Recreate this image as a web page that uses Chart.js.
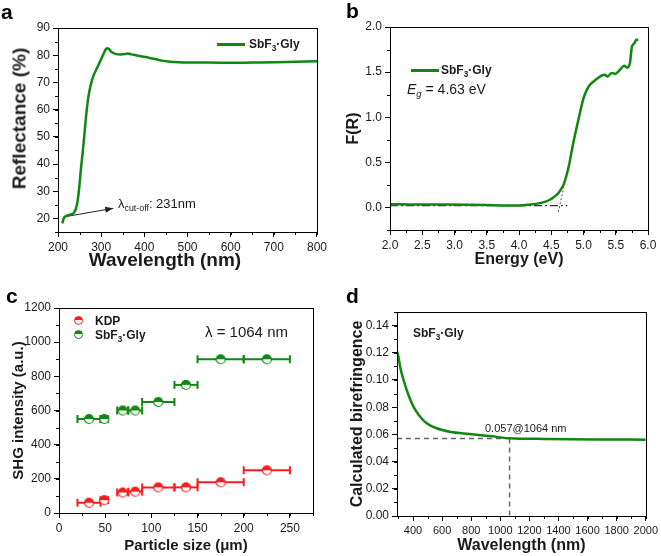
<!DOCTYPE html>
<html>
<head>
<meta charset="utf-8">
<script src="https://cdn.jsdelivr.net/npm/chart.js@4.4.1/dist/chart.umd.min.js"></script>
<style>
  html, body { margin: 0; padding: 0; background: #fff; }
  #wrap { position: relative; width: 661px; height: 556px; font-family: 'Liberation Sans', Arial, sans-serif; color: #1a1a1a; }
  #wrap canvas { position: absolute; }
  .t { position: absolute; white-space: nowrap; line-height: 1; }
  .b { font-weight: bold; }
  .sub { font-size: 0.68em; position: relative; top: 0.32em; }
  .panel { font-size: 21px; font-weight: bold; color: #000; }
  .axt { position: absolute; width: 200px; text-align: center; font-weight: bold; line-height: 1; white-space: nowrap; }
  .lgline { position: absolute; height: 3px; background: #118611; }
  .dot { position: absolute; width: 7px; height: 7px; border-radius: 50%; }
</style>
</head>
<body>
<div id="wrap">
  <canvas id="chartA" width="330" height="278" style="left:0;top:0"></canvas>
  <canvas id="chartB" width="331" height="278" style="left:330px;top:0"></canvas>
  <canvas id="chartC" width="330" height="278" style="left:0;top:278px"></canvas>
  <canvas id="chartD" width="331" height="278" style="left:330px;top:278px"></canvas>

  <div class="t panel" style="left:1px;top:1px">a</div>
  <div class="t panel" style="left:346px;top:0px">b</div>
  <div class="t panel" style="left:6px;top:285px">c</div>
  <div class="t panel" style="left:346px;top:285px">d</div>

  <!-- a -->
  <div class="axt" style="left:65px;top:250px;font-size:19px">Wavelength (nm)</div>
  <div class="axt" style="left:-81px;top:109px;font-size:19px;transform:rotate(-90deg)">Reflectance (%)</div>
  <div class="lgline" style="left:217px;top:43px;width:28px"></div>
  <div class="t b" style="left:249px;top:38px;font-size:12px">SbF<span class="sub">3</span>·Gly</div>
  <div class="t" style="left:118px;top:197px;font-size:13px">λ<span class="sub">cut-off</span>: 231nm</div>

  <!-- b -->
  <div class="lgline" style="left:411px;top:69px;width:28px"></div>
  <div class="t b" style="left:441px;top:64px;font-size:12px">SbF<span class="sub">3</span>·Gly</div>
  <div class="t" style="left:407px;top:82px;font-size:14px"><i>E<span class="sub">g</span></i> = 4.63 eV</div>

  <!-- c -->
  <div class="dot" style="left:74px;top:316px;border:1.2px solid #f51d1d;background:linear-gradient(#f51d1d 50%,#fff 50%)"></div>
  <div class="dot" style="left:74px;top:330px;border:1.2px solid #118611;background:linear-gradient(#118611 50%,#fff 50%)"></div>
  <div class="t b" style="left:95px;top:315px;font-size:12px">KDP</div>
  <div class="t b" style="left:95px;top:329px;font-size:12px">SbF<span class="sub">3</span>·Gly</div>
  <div class="t" style="left:205px;top:324px;font-size:15px">λ = 1064 nm</div>

  <!-- d -->
  <div class="t b" style="left:413px;top:327px;font-size:12px">SbF<span class="sub">3</span>·Gly</div>
  <div class="t" style="left:485px;top:423px;font-size:11px">0.057@1064 nm</div>
</div>

<script>
// ---- data ----
// a: reflectance spectrum
const reflWave = [210, 214, 220, 228, 236, 241, 245, 249, 253, 257, 261, 265, 269, 273, 277, 282, 288, 294, 300, 305, 310, 314, 318, 322, 328, 335, 345, 355, 362, 370, 380, 395, 410, 425, 440, 460, 480, 500, 550, 600, 650, 700, 750, 800];
const reflPct  = [18.2, 20.3, 20.9, 21.4, 21.9, 23.3, 26, 31, 38, 44, 50.5, 57.5, 63, 67, 69.8, 72.4, 74.5, 76.5, 78.6, 80.3, 82, 82.6, 82.3, 81.5, 80.8, 80.4, 80.3, 80.4, 80.6, 80.3, 80.0, 79.5, 79.1, 78.6, 78.0, 77.6, 77.4, 77.3, 77.3, 77.2, 77.3, 77.4, 77.6, 77.8];
const cutoffArrowX = [223, 328];
const cutoffArrowY = [20.8, 23.7];
const ticksA_x = [200, 300, 400, 500, 600, 700, 800];
const ticksA_y = [20, 30, 40, 50, 60, 70, 80, 90];

// b: Kubelka-Munk
const energyEv = [2.0, 2.3, 2.6, 2.9, 3.2, 3.5, 3.8, 4.0, 4.15, 4.3, 4.4, 4.48, 4.55, 4.6, 4.65, 4.7, 4.77, 4.84, 4.92, 5.0, 5.05, 5.1, 5.18, 5.28, 5.33, 5.37, 5.44, 5.49, 5.53, 5.57, 5.63, 5.68, 5.72, 5.75, 5.79, 5.82, 5.85];
const fR       = [0.035, 0.034, 0.033, 0.032, 0.030, 0.027, 0.022, 0.022, 0.03, 0.045, 0.062, 0.085, 0.12, 0.15, 0.2, 0.27, 0.45, 0.71, 0.97, 1.21, 1.30, 1.36, 1.41, 1.46, 1.47, 1.45, 1.49, 1.48, 1.50, 1.53, 1.57, 1.55, 1.60, 1.78, 1.82, 1.86, 1.86];
const baseLineX = [2.0, 4.75];
const baseLineY = [0.02, 0.02];
const tangentX = [4.61, 5.0];
const tangentY = [-0.05, 1.24];
const ticksB_x = [2.0, 2.5, 3.0, 3.5, 4.0, 4.5, 5.0, 5.5, 6.0];
const ticksB_y = [0.0, 0.5, 1.0, 1.5, 2.0];

// c: SHG vs particle size
const sizeLo  = [20, 45, 63, 75, 90, 125, 150, 200];
const sizeHi  = [45, 53, 75, 90, 125, 150, 200, 250];
const sizeMid = [32.5, 49, 69, 82.5, 107.5, 137.5, 175, 225];
const kdpShg  = [60, 75, 120, 125, 150, 150, 180, 250];
const sbfShg  = [550, 550, 600, 600, 650, 750, 900, 900];
const ticksC_x = [0, 50, 100, 150, 200, 250];
const ticksC_y = [0, 200, 400, 600, 800, 1000, 1200];

// d: birefringence
const biWave = [290, 300, 313, 335, 369, 403, 449, 494, 562, 653, 789, 926, 1064, 1311, 1652, 2000];
const biVal  = [0.121, 0.117, 0.109, 0.100, 0.089, 0.0804, 0.073, 0.0682, 0.0645, 0.062, 0.0603, 0.0588, 0.0572, 0.0567, 0.0563, 0.0561];
const markWave = 1064;
const markVal = 0.057;
const ticksD_x = [400, 600, 800, 1000, 1200, 1400, 1600, 1800, 2000];
const ticksD_y = [0, 0.02, 0.04, 0.06, 0.08, 0.10, 0.12, 0.14];

// ---- style ----
const GREEN = '#118611';
const RED = '#f51d1d';
const TXT = '#1a1a1a';
Chart.defaults.font.family = "'Liberation Sans', Arial, sans-serif";
Chart.defaults.color = TXT;
Chart.defaults.animation = false;

const xy = (xs, ys) => xs.map((x, i) => ({ x, y: ys[i] }));

// box around plot area + short minor ticks
const framePlugin = {
  id: 'frame',
  afterDraw(chart, args, opts) {
    const { ctx, chartArea: a } = chart;
    ctx.save();
    ctx.strokeStyle = '#000';
    ctx.lineWidth = 1;
    ctx.strokeRect(Math.round(a.left) + 0.5, Math.round(a.top) + 0.5, Math.round(a.right - a.left), Math.round(a.bottom - a.top));
    ctx.beginPath();
    for (const [id, step] of Object.entries(opts.minor || {})) {
      const s = chart.scales[id];
      const n0 = Math.ceil(s.min / step - 1e-6);
      for (let n = n0; n * step <= s.max + 1e-9; n++) {
        const p = Math.round(s.getPixelForValue(n * step)) + 0.5;
        if (s.isHorizontal()) { ctx.moveTo(p, a.bottom); ctx.lineTo(p, a.bottom + 3); }
        else { ctx.moveTo(a.left, p); ctx.lineTo(a.left - 3, p); }
      }
    }
    ctx.stroke();
    ctx.restore();
  }
};

// arrow head on the last segment of a dataset
const arrowPlugin = {
  id: 'arrowHead',
  afterDatasetsDraw(chart, args, opts) {
    if (opts.dataset === undefined) return;
    const pts = chart.getDatasetMeta(opts.dataset).data;
    const p0 = pts[pts.length - 2], p1 = pts[pts.length - 1];
    const ang = Math.atan2(p1.y - p0.y, p1.x - p0.x);
    const { ctx } = chart;
    ctx.save();
    ctx.translate(p1.x, p1.y);
    ctx.rotate(ang);
    ctx.fillStyle = '#222';
    ctx.beginPath();
    ctx.moveTo(0, 0); ctx.lineTo(-8, -3); ctx.lineTo(-8, 3); ctx.closePath();
    ctx.fill();
    ctx.restore();
  }
};

function scaleCfg({ min, max, ticks, fmt, title, size, pad, fit, tickSize }) {
  return {
    type: 'linear', min, max,
    afterBuildTicks: s => { s.ticks = ticks.map(v => ({ value: v })); },
    afterFit: s => { if (s.isHorizontal()) s.height = fit; else s.width = fit; },
    ticks: { font: { size: tickSize || 12 }, color: TXT, padding: 3, maxRotation: 0, autoSkip: false, callback: fmt },
    grid: { drawOnChartArea: false, drawTicks: true, tickLength: 5, color: '#000', tickColor: '#000' },
    border: { display: true, color: '#000' },
    title: { display: !!title, text: title, color: TXT, font: { size, weight: 'bold' }, padding: { top: pad, bottom: pad } }
  };
}

function baseOptions(W, H, area, scales, plugins) {
  return {
    responsive: false,
    animation: false,
    layout: { padding: { left: 0, top: area.top, right: W - area.right, bottom: 0 } },
    scales,
    plugins: Object.assign({ legend: { display: false }, tooltip: { enabled: false } }, plugins || {})
  };
}

// half filled circle marker
function halfDot(color) {
  const c = document.createElement('canvas');
  c.width = 12; c.height = 12;
  const g = c.getContext('2d');
  g.beginPath(); g.arc(6, 6, 4.5, 0, 2 * Math.PI); g.fillStyle = '#fff'; g.fill();
  g.beginPath(); g.arc(6, 6, 4.5, Math.PI, 2 * Math.PI); g.closePath(); g.fillStyle = color; g.fill();
  g.beginPath(); g.arc(6, 6, 4.5, 0, 2 * Math.PI); g.strokeStyle = color; g.lineWidth = 1.2; g.stroke();
  return c;
}

function errBars(ys, color) {
  return sizeLo.map((lo, i) => ({
    type: 'line',
    data: [{ x: lo, y: ys[i] }, { x: sizeHi[i], y: ys[i] }],
    borderColor: color, borderWidth: 2,
    pointStyle: 'line', pointRotation: 90, pointRadius: 4,
    pointBorderColor: color, pointBorderWidth: 2,
    order: 2
  }));
}

// ---- a ----
new Chart(document.getElementById('chartA'), {
  type: 'line',
  data: {
    datasets: [
      { data: xy(reflWave, reflPct), borderColor: GREEN, borderWidth: 2.5, pointRadius: 0, cubicInterpolationMode: 'monotone' },
      { data: xy(cutoffArrowX, cutoffArrowY), borderColor: '#222', borderWidth: 1, pointRadius: 0 }
    ]
  },
  options: baseOptions(330, 278, { top: 28, right: 317 }, {
    x: scaleCfg({ min: 200, max: 800, ticks: ticksA_x, fit: 46 }),
    y: scaleCfg({ min: 15, max: 90, ticks: ticksA_y, fit: 58 })
  }, { frame: { minor: { x: 50, y: 5 } }, arrowHead: { dataset: 1 } }),
  plugins: [framePlugin, arrowPlugin]
});

// ---- b ----
new Chart(document.getElementById('chartB'), {
  type: 'line',
  data: {
    datasets: [
      { data: xy(energyEv, fR), borderColor: GREEN, borderWidth: 2.5, pointRadius: 0, cubicInterpolationMode: 'monotone', order: 0 },
      { data: xy(baseLineX, baseLineY), borderColor: '#333', borderWidth: 1.2, borderDash: [8, 3, 2, 3], pointRadius: 0, order: 1 },
      { data: xy(tangentX, tangentY), borderColor: '#555', borderWidth: 1, borderDash: [2, 2], pointRadius: 0, order: 1 }
    ]
  },
  options: baseOptions(331, 278, { top: 27, right: 318 }, {
    x: scaleCfg({ min: 2, max: 6, ticks: ticksB_x, fmt: v => v.toFixed(1), title: 'Energy (eV)', size: 16, pad: 9, fit: 48 }),
    y: scaleCfg({ min: -0.25, max: 2, ticks: ticksB_y, fmt: v => v.toFixed(1), title: 'F(R)', size: 16, pad: 14, fit: 60 })
  }, { frame: { minor: { x: 0.25, y: 0.25 } } }),
  plugins: [framePlugin]
});

// ---- c ----
const dotRed = halfDot(RED), dotGreen = halfDot(GREEN);
new Chart(document.getElementById('chartC'), {
  type: 'line',
  data: {
    datasets: [
      { type: 'scatter', data: xy(sizeMid, kdpShg), pointStyle: dotRed, pointRadius: 5, showLine: false, order: 0 },
      { type: 'scatter', data: xy(sizeMid, sbfShg), pointStyle: dotGreen, pointRadius: 5, showLine: false, order: 0 },
      ...errBars(kdpShg, RED),
      ...errBars(sbfShg, GREEN)
    ]
  },
  options: baseOptions(330, 278, { top: 30, right: 313 }, {
    x: scaleCfg({ min: 0, max: 275, ticks: ticksC_x, title: 'Particle size (μm)', size: 15, pad: 1, fit: 43 }),
    y: scaleCfg({ min: 0, max: 1200, ticks: ticksC_y, title: 'SHG intensity (a.u.)', size: 15, pad: 10, fit: 59 })
  }, { frame: { minor: { x: 25, y: 100 } } }),
  plugins: [framePlugin]
});

// ---- d ----
new Chart(document.getElementById('chartD'), {
  type: 'line',
  data: {
    datasets: [
      { data: xy(biWave, biVal), borderColor: GREEN, borderWidth: 2.5, pointRadius: 0, cubicInterpolationMode: 'monotone', order: 0 },
      { data: xy([biWave[0], markWave], [markVal, markVal]), borderColor: '#666', borderWidth: 1.5, borderDash: [5, 4], pointRadius: 0, order: 1 },
      { data: xy([markWave, markWave], [markVal, 0]), borderColor: '#666', borderWidth: 1.5, borderDash: [5, 4], pointRadius: 0, order: 1 }
    ]
  },
  options: baseOptions(331, 278, { top: 34, right: 318 }, {
    x: scaleCfg({ min: 290, max: 2000, ticks: ticksD_x, title: 'Wavelength (nm)', size: 16, pad: 1, fit: 40, tickSize: 11 }),
    y: scaleCfg({ min: 0, max: 0.15, ticks: ticksD_y, fmt: v => v.toFixed(2), title: 'Calculated birefringence', size: 16, pad: 18, fit: 67 })
  }, { frame: { minor: { x: 100, y: 0.01 } } }),
  plugins: [framePlugin]
});
</script>
</body>
</html>
